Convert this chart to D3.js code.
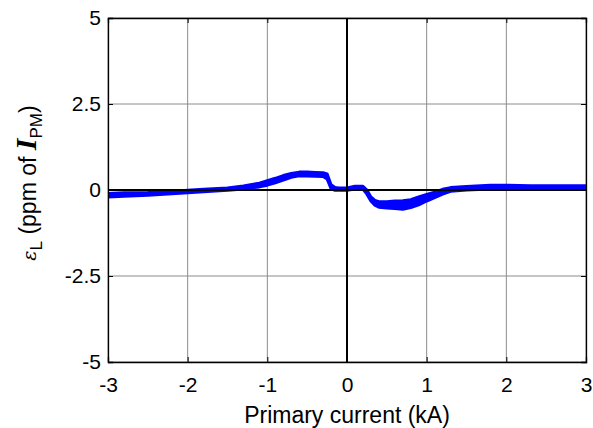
<!DOCTYPE html>
<html><head><meta charset="utf-8">
<script src="https://cdn.jsdelivr.net/npm/d3@7"></script>
<style>body{margin:0;background:#fff}svg{display:block}</style>
</head><body>
<svg id="c" width="593" height="428"></svg>
<script>
const currents = [-3,-2.8,-2.5,-2.2,-2,-1.8,-1.5,-1.3,-1.1,-1,-0.9,-0.8,-0.7,-0.6,-0.5,-0.4,-0.3,-0.25,-0.2,-0.15,-0.1,0,0.1,0.2,0.25,0.3,0.35,0.4,0.5,0.6,0.7,0.8,0.9,1.0,1.1,1.2,1.3,1.5,1.8,2,2.3,2.6,3];
const upperBranch = [-0.1,-0.08,-0.07,-0.04,-0.01,0.02,0.06,0.12,0.2,0.27,0.34,0.42,0.48,0.52,0.52,0.51,0.5,0.47,0.15,0.07,0.06,0.06,0.11,0.11,0.0,-0.2,-0.3,-0.34,-0.34,-0.32,-0.31,-0.28,-0.2,-0.13,-0.06,0.02,0.07,0.1,0.14,0.14,0.12,0.12,0.12];
const lowerBranch = [-0.2,-0.18,-0.15,-0.11,-0.08,-0.05,-0.01,0.03,0.09,0.14,0.21,0.29,0.37,0.41,0.41,0.4,0.39,0.32,0.04,-0.01,-0.01,-0.01,0.03,0.03,-0.12,-0.32,-0.44,-0.5,-0.52,-0.54,-0.56,-0.51,-0.43,-0.32,-0.22,-0.12,-0.04,0.0,0.03,0.04,0.04,0.04,0.04];
const xTicks = [-3,-2,-1,0,1,2,3];
const yTicks = [-5,-2.5,0,2.5,5];

const svg = d3.select("#c");
const L=108, R=586, T=18, B=362;
const x = d3.scaleLinear().domain([-3,3]).range([L,R]);
const y = d3.scaleLinear().domain([-5,5]).range([B,T]);
const font = "Liberation Sans, Arial, sans-serif";
const fmt = d=>String(d).replace("\u2212","-");

// grid
const g = svg.append("g");
g.selectAll(".vx").data(xTicks).enter().append("line")
  .attr("x1",d=>x(d)).attr("x2",d=>x(d)).attr("y1",T).attr("y2",B)
  .attr("stroke","#8c8c8c").attr("stroke-width",1);
g.selectAll(".hy").data(yTicks).enter().append("line")
  .attr("x1",L).attr("x2",R).attr("y1",d=>y(d)).attr("y2",d=>y(d))
  .attr("stroke","#8c8c8c").attr("stroke-width",1);

// data band
const area = d3.area().x((d,i)=>x(currents[i])).y0((d,i)=>y(lowerBranch[i])).y1(d=>y(d));
svg.append("path").datum(upperBranch).attr("d",area).attr("fill","#0000ff");
const line = d3.line().x((d,i)=>x(currents[i])).y(d=>y(d));
[upperBranch, lowerBranch].forEach(s=>{
  svg.append("path").datum(s).attr("d",line).attr("fill","none")
    .attr("stroke","#0000ff").attr("stroke-width",3).attr("stroke-linejoin","round");
});

// zero lines
svg.append("line").attr("x1",L).attr("x2",R).attr("y1",y(0)).attr("y2",y(0))
  .attr("stroke","#000").attr("stroke-width",2);
svg.append("line").attr("x1",x(0)).attr("x2",x(0)).attr("y1",T).attr("y2",B)
  .attr("stroke","#000").attr("stroke-width",2);

// axes
const xa = svg.append("g").attr("transform",`translate(0,${B})`)
  .call(d3.axisBottom(x).tickValues(xTicks).tickSize(-5).tickPadding(15).tickFormat(fmt));
const xa2 = svg.append("g").attr("transform",`translate(0,${T})`)
  .call(d3.axisTop(x).tickValues(xTicks).tickSize(-5).tickFormat(""));
const ya = svg.append("g").attr("transform",`translate(${L},0)`)
  .call(d3.axisLeft(y).tickValues(yTicks).tickSize(-5).tickPadding(7).tickFormat(fmt));
const ya2 = svg.append("g").attr("transform",`translate(${R},0)`)
  .call(d3.axisRight(y).tickValues(yTicks).tickSize(-5).tickFormat(""));
[xa,xa2,ya,ya2].forEach(a=>{
  a.select(".domain").attr("stroke","#000").attr("stroke-width",1.3);
  a.selectAll(".tick line").attr("stroke","#000");
  a.selectAll("text").attr("font-family",font).attr("font-size",21).attr("fill","#000");
});

// x title
svg.append("text").attr("x",x(0)).attr("y",423).attr("text-anchor","middle")
  .attr("font-family",font).attr("font-size",23).text("Primary current (kA)");

// y title
const yt = svg.append("text").attr("transform","translate(36,183) rotate(-90)")
  .attr("text-anchor","middle").attr("font-family",font).attr("font-size",23);
yt.append("tspan").attr("font-family","DejaVu Serif, serif").attr("font-style","italic").attr("font-size",19).text("ε");
yt.append("tspan").attr("font-size",17).attr("dy",6).text("L");
yt.append("tspan").attr("dy",-6).text(" (ppm of ");
yt.append("tspan").attr("font-family","Liberation Serif, serif").attr("font-style","italic").attr("font-weight","bold").attr("font-size",30).text("I");
yt.append("tspan").attr("font-size",17).attr("dy",6).text("PM");
yt.append("tspan").attr("dy",-6).text(")");
</script>
</body></html>
